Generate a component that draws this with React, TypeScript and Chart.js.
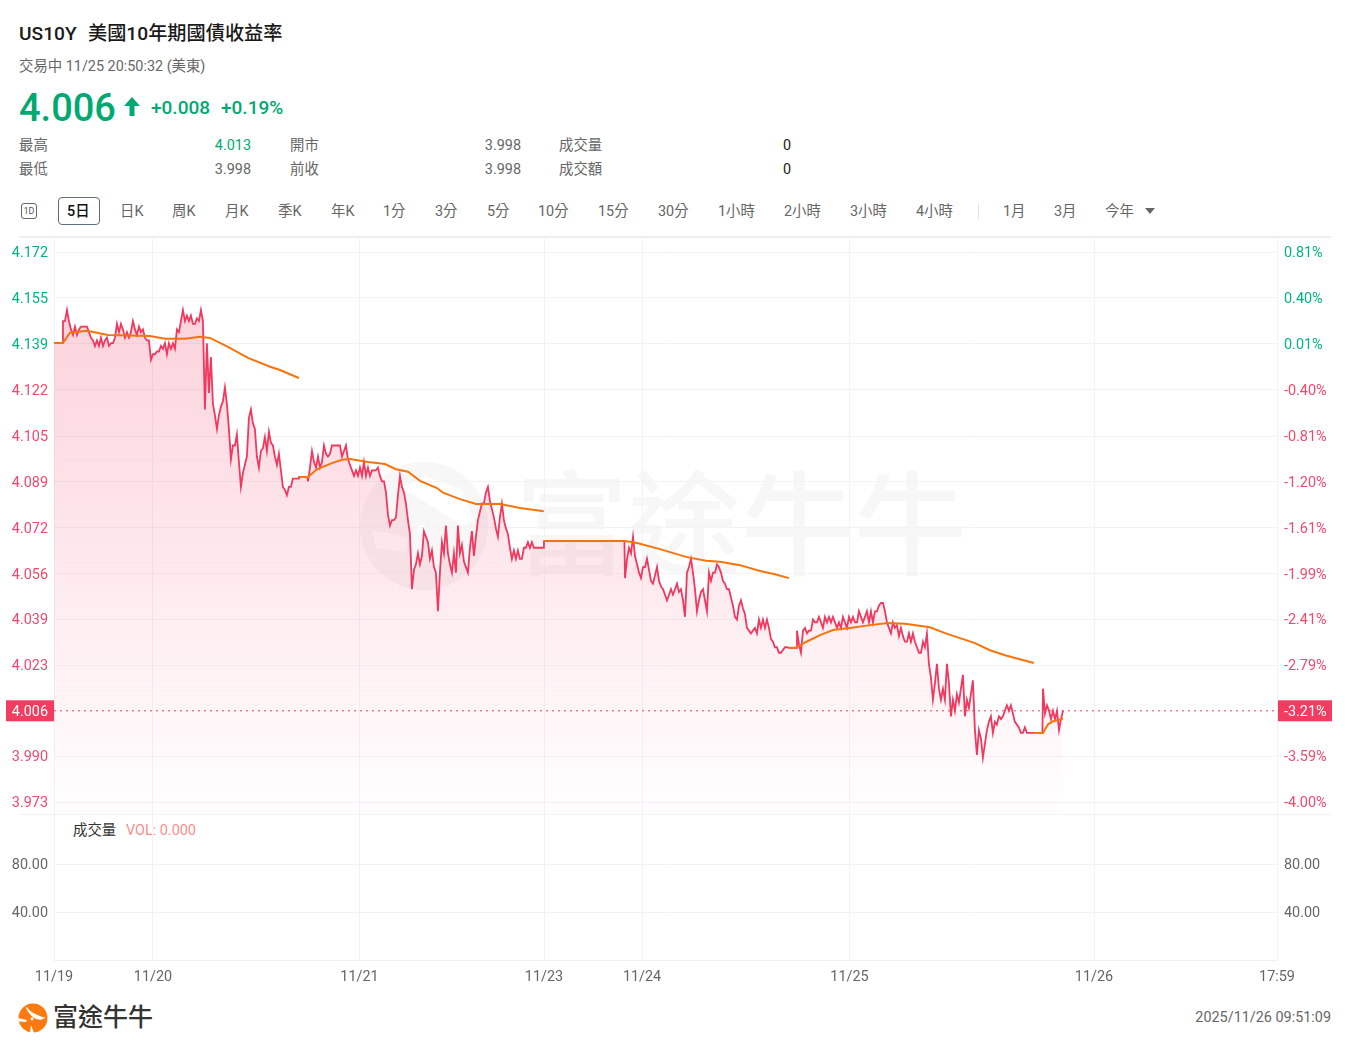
import React, { useEffect, useRef } from "react";
import { Chart, registerables } from "chart.js";

Chart.register(...registerables);

const FONT = 'Roboto, "Noto Sans CJK TC", sans-serif';
const RED = "#f23d61";
const GREEN = "#00a971";
const SMALL = 14.4;

// Tick tables
const priceTicks = [4.172, 4.1554, 4.1388, 4.1222, 4.1054, 4.0889, 4.0723, 4.0557, 4.0391, 4.0225, 3.9895, 3.973];
const priceLabels = ["4.172", "4.155", "4.139", "4.122", "4.105", "4.089", "4.072", "4.056", "4.039", "4.023", "3.990", "3.973"];
const percentLabels = ["0.81%", "0.40%", "0.01%", "-0.40%", "-0.81%", "-1.20%", "-1.61%", "-1.99%", "-2.41%", "-2.79%", "-3.59%", "-4.00%"];
const volumeTicks = [80, 40];
const volumeLabels = ["80.00", "40.00"];
const timeTicks = [0, 9.7, 29.95, 48.04, 57.65, 77.99, 101.96, 119.9];
const timeLabels = ["11/19", "11/20", "11/21", "11/23", "11/24", "11/25", "11/26", "17:59"];
const LAST_PRICE = 4.006;
const LAST_PERCENT = "-3.21%";
const X_MAX = 119.9;
const SAMPLE_HOURS = 0.196;

// Session opening (flat) stretch
const sessionOpenHours = [0, 24.02, 48.04, 72.06, 96.08];
const sessionOpenPrices = [4.1391, 4.0906, 4.0674, 4.0288, 3.998];
const activeStartHours = [0.88, 24.9, 55.98, 72.84, 96.96];

// Prices, one sample per SAMPLE_HOURS
const session1 = [
  4.147, 4.147, 4.151, 4.147, 4.144, 4.142, 4.145, 4.142, 4.144, 4.145, 4.145, 4.145, 4.145, 4.143, 4.141, 4.14, 4.138, 4.14, 4.138, 4.141,
  4.138, 4.14, 4.141, 4.138, 4.139, 4.139, 4.141, 4.146, 4.143, 4.146, 4.144, 4.141, 4.143, 4.141, 4.143, 4.147, 4.144, 4.142, 4.145, 4.143,
  4.144, 4.141, 4.14, 4.14, 4.133, 4.135, 4.135, 4.136, 4.136, 4.138, 4.137, 4.139, 4.135, 4.139, 4.137, 4.139, 4.137, 4.144, 4.143, 4.147,
  4.151, 4.147, 4.149, 4.147, 4.149, 4.146, 4.146, 4.148, 4.147, 4.151, 4.147, 4.115, 4.139, 4.121, 4.134, 4.117, 4.113, 4.108, 4.113, 4.116,
  4.118, 4.123, 4.117, 4.108, 4.097, 4.102, 4.102, 4.106, 4.096, 4.087, 4.092, 4.095, 4.098, 4.112, 4.115, 4.11, 4.108, 4.098, 4.094, 4.1,
  4.101, 4.105, 4.1, 4.107, 4.103, 4.102, 4.098, 4.095, 4.099, 4.093, 4.087, 4.086, 4.084, 4.087, 4.087, 4.09, 4.09, 4.09, 4.09,
];
const session2 = [
  4.089, 4.094, 4.1, 4.096, 4.094, 4.098, 4.094, 4.096, 4.102, 4.099, 4.098, 4.099, 4.102, 4.102, 4.102, 4.102, 4.102, 4.098, 4.1, 4.102,
  4.097, 4.095, 4.093, 4.091, 4.093, 4.091, 4.094, 4.091, 4.096, 4.091, 4.094, 4.091, 4.093, 4.093, 4.093, 4.094, 4.091, 4.089, 4.089, 4.085,
  4.077, 4.073, 4.075, 4.075, 4.076, 4.084, 4.091, 4.087, 4.085, 4.081, 4.075, 4.07, 4.05, 4.057, 4.059, 4.063, 4.059, 4.062, 4.071, 4.069,
  4.067, 4.061, 4.064, 4.058, 4.056, 4.042, 4.056, 4.067, 4.063, 4.073, 4.063, 4.059, 4.056, 4.063, 4.056, 4.073, 4.063, 4.066, 4.06, 4.058,
  4.056, 4.065, 4.071, 4.062, 4.069, 4.075, 4.078, 4.081, 4.081, 4.085, 4.087, 4.082, 4.079, 4.076, 4.072, 4.069, 4.076, 4.081, 4.075, 4.072,
  4.07, 4.065, 4.061, 4.064, 4.061, 4.064, 4.061, 4.061, 4.065, 4.065, 4.067, 4.065, 4.067, 4.065, 4.065, 4.065, 4.065, 4.065, 4.065,
];
const session3 = [
  4.054, 4.061, 4.065, 4.063, 4.069, 4.062, 4.059, 4.056, 4.054, 4.058, 4.058, 4.061, 4.057, 4.053, 4.052, 4.055, 4.058, 4.053, 4.051, 4.05,
  4.048, 4.046, 4.048, 4.05, 4.048, 4.05, 4.052, 4.049, 4.05, 4.046, 4.04, 4.056, 4.058, 4.061, 4.056, 4.05, 4.042, 4.046, 4.049, 4.05,
  4.046, 4.042, 4.056, 4.053, 4.056, 4.056, 4.059, 4.058, 4.056, 4.053, 4.052, 4.05, 4.05, 4.047, 4.044, 4.04, 4.039, 4.044, 4.046, 4.043,
  4.041, 4.036, 4.035, 4.034, 4.035, 4.036, 4.034, 4.039, 4.036, 4.039, 4.036, 4.039, 4.036, 4.032, 4.031, 4.029, 4.029, 4.027, 4.027, 4.028,
  4.029, 4.029,
];
const session4 = [
  4.035, 4.03, 4.027, 4.035, 4.036, 4.034, 4.035, 4.035, 4.039, 4.038, 4.038, 4.04, 4.038, 4.036, 4.04, 4.038, 4.04, 4.038, 4.04, 4.038,
  4.036, 4.038, 4.036, 4.04, 4.038, 4.036, 4.04, 4.038, 4.04, 4.038, 4.038, 4.042, 4.04, 4.038, 4.04, 4.042, 4.038, 4.042, 4.038, 4.042,
  4.042, 4.044, 4.045, 4.045, 4.042, 4.038, 4.036, 4.034, 4.038, 4.036, 4.037, 4.033, 4.036, 4.033, 4.031, 4.031, 4.034, 4.031, 4.034, 4.031,
  4.029, 4.027, 4.027, 4.031, 4.029, 4.034, 4.023, 4.018, 4.01, 4.016, 4.023, 4.014, 4.01, 4.014, 4.01, 4.023, 4.016, 4.004, 4.01, 4.006,
  4.012, 4.009, 4.014, 4.019, 4.004, 4.01, 4.007, 4.012, 4.017, 3.999, 3.99, 3.999, 3.996, 3.989, 3.994, 3.999, 4.002, 4.004, 3.998, 4.002,
  4.001, 4.004, 4.003, 4.004, 4.006, 4.008, 4.006, 4.008, 4.005, 4.002, 4.001, 4.0, 3.998, 3.998, 4.0, 3.998, 3.998, 3.998, 3.998,
];
const session5 = [4.014, 4.005, 4.008, 4.006, 4.003, 4.006, 4.003, 4.006, 3.999, 4.003, 4.006];
const sessions = [session1, session2, session3, session4, session5];

// Average line per session
const avgHours = [
  [0, 0.88, 1.57, 3.24, 5.29, 9.41, 10.88, 12.84, 14.31, 15.29, 17.06, 19.02, 21.18, 22.16, 24.0],
  [24.02, 24.9, 25.78, 27.25, 28.24, 29.02, 30.78, 32.45, 33.53, 34.71, 35.88, 37.55, 38.14, 39.8, 41.37, 43.73, 45.69, 48.02],
  [48.04, 55.98, 57.16, 59.41, 61.96, 63.92, 65.29, 67.25, 69.22, 70.69, 72.04],
  [72.06, 72.75, 73.73, 75.1, 76.37, 78.04, 80, 81.76, 83.43, 85.88, 87.35, 90.29, 91.76, 93.24, 96.06],
  [96.08, 96.96, 97.45, 97.94, 98.92],
];
const avgValues = [
  [4.1391, 4.1391, 4.1428, 4.1435, 4.142, 4.1416, 4.1406, 4.1406, 4.1413, 4.1409, 4.1377, 4.1337, 4.1305, 4.1293, 4.1264],
  [4.0906, 4.0906, 4.0934, 4.0956, 4.0968, 4.0971, 4.096, 4.0953, 4.0934, 4.0925, 4.0892, 4.0866, 4.0849, 4.0826, 4.0808, 4.0808, 4.0794, 4.0782],
  [4.0674, 4.0674, 4.0667, 4.0645, 4.0617, 4.0603, 4.0599, 4.0587, 4.0566, 4.0554, 4.054],
  [4.0288, 4.0288, 4.0309, 4.0334, 4.0352, 4.036, 4.037, 4.0378, 4.0375, 4.0362, 4.0341, 4.0305, 4.0279, 4.0261, 4.0233],
  [3.998, 3.998, 4.0011, 4.0022, 4.0031],
];

// Toolbar
const rangeNames = ["日K", "周K", "月K", "季K", "年K", "1分", "3分", "5分", "10分", "15分", "30分", "1小時", "2小時", "3小時", "4小時", "1月", "3月", "今年"];
const rangeLefts = [120, 172, 225, 278, 331, 383, 435, 487, 538, 598, 658, 718, 784, 850, 916, 1003, 1054, 1105];

type TProps = { x: number; cy: number; size?: number; color?: string; weight?: number; right?: boolean; spacing?: number; children: React.ReactNode };
function T({ x, cy, size = SMALL, color = "#666", weight = 400, right, spacing, children }: TProps) {
  const style: React.CSSProperties = {
    position: "absolute",
    top: cy + 0.8,
    transform: "translateY(-50%)",
    fontSize: size,
    fontWeight: weight,
    color,
    lineHeight: 1.2,
    whiteSpace: "pre",
    letterSpacing: spacing,
    fontFamily: FONT,
  };
  if (right) style.right = 1350 - x;
  else style.left = x;
  return <div style={style}>{children}</div>;
}

const pricePoints = () => {
  const pts: { x: number; y: number }[] = [];
  sessions.forEach((list, s) => {
    pts.push({ x: sessionOpenHours[s], y: sessionOpenPrices[s] });
    pts.push({ x: activeStartHours[s] - 0.06, y: sessionOpenPrices[s] });
    list.forEach((p, i) => pts.push({ x: activeStartHours[s] + i * SAMPLE_HOURS, y: p }));
  });
  return pts;
};
const avgPoints = () => {
  const pts: { x: number; y: number | null }[] = [];
  avgHours.forEach((hours, s) => {
    hours.forEach((h, i) => pts.push({ x: h, y: avgValues[s][i] }));
    pts.push({ x: hours[hours.length - 1] + 0.005, y: null });
  });
  return pts;
};

function setTicks(values: number[]) {
  return (scale: any) => {
    scale.ticks = values.map((value) => ({ value }));
  };
}
const fixWidth = (w: number) => (scale: any) => {
  scale.width = w;
};
const labelFrom = (values: number[], labels: string[]) => (v: any) => labels[values.indexOf(v)];
const priceColor = (ctx: any) => (ctx.tick && ctx.tick.value >= 4.13 ? "#00b285" : "#f4486b");

const overlay = {
  id: "overlay",
  beforeDraw(chart: any) {
    // Roboto sits high on a "middle" baseline: nudge the y-axis labels onto their grid rows
    ["yPrice", "yVolume", "yPercent", "yVolumeRight"].forEach((id) => {
      chart.scales[id].getLabelItems().forEach((item: any) => {
        if (!item.nudged) {
          item.options.translation[1] += 1.5;
          item.nudged = true;
        }
      });
    });
  },
  afterDraw(chart: any) {
    const { ctx, scales } = chart;
    const y = scales.yPrice.getPixelForValue(LAST_PRICE);
    ctx.save();
    ctx.strokeStyle = "#f1f1f4";
    ctx.lineWidth = 1;
    ctx.beginPath();
    ctx.moveTo(19, Math.round(scales.yPrice.bottom) + 0.5);
    ctx.lineTo(1331, Math.round(scales.yPrice.bottom) + 0.5);
    ctx.stroke();
    ctx.fillStyle = RED;
    ctx.fillRect(6, y - 10.5, 48, 21);
    ctx.fillRect(1278, y - 10.5, 54, 21);
    ctx.fillStyle = "#fff";
    ctx.font = `${SMALL}px ${FONT}`;
    ctx.textBaseline = "middle";
    ctx.textAlign = "right";
    ctx.fillText(LAST_PRICE.toFixed(3), 48, y + 1.5);
    ctx.textAlign = "left";
    ctx.fillText(LAST_PERCENT, 1284, y + 1.5);
    ctx.restore();
  },
};

export default function App() {
  const ref = useRef<HTMLCanvasElement>(null);
  useEffect(() => {
    document.body.style.margin = "0";
    const chart = new Chart(ref.current as HTMLCanvasElement, {
      type: "line",
      data: {
        datasets: [
          {
            label: "avg",
            data: avgPoints() as any,
            yAxisID: "yPrice",
            borderColor: "#f7730c",
            borderWidth: 2,
            pointRadius: 0,
            spanGaps: false,
            order: 1,
          },
          {
            label: "US10Y",
            data: pricePoints(),
            yAxisID: "yPrice",
            borderColor: "rgb(241,56,94)",
            borderWidth: 1.8,
            pointRadius: 0,
            fill: "start",
            backgroundColor: (c: any) => {
              const { chart: ch } = c;
              const s = ch.scales.yPrice;
              const top = s ? s.getPixelForValue(4.15) : NaN;
              const bottom = s ? s.getPixelForValue(3.975) : NaN;
              if (!Number.isFinite(top) || !Number.isFinite(bottom)) return "rgba(241,56,94,0.15)";
              const g = ch.ctx.createLinearGradient(0, top, 0, bottom);
              g.addColorStop(0, "rgba(241,56,94,0.22)");
              g.addColorStop(1, "rgba(241,56,94,0.01)");
              return g;
            },
            order: 2,
          },
          {
            label: "last",
            data: [
              { x: 0, y: LAST_PRICE },
              { x: X_MAX, y: LAST_PRICE },
            ],
            yAxisID: "yPrice",
            borderColor: RED,
            borderWidth: 1,
            borderDash: [2, 4],
            pointRadius: 0,
            order: 3,
          },
        ],
      },
      options: {
        animation: false,
        responsive: false,
        parsing: false as any,
        normalized: true,
        layout: { padding: { top: 238, bottom: 50, left: 0, right: 0 } },
        plugins: { legend: { display: false }, title: { display: false }, tooltip: { enabled: false } },
        scales: {
          x: {
            type: "linear",
            min: 0,
            max: X_MAX,
            afterBuildTicks: setTicks(timeTicks),
            afterFit: (s: any) => {
              s.height = 40;
            },
            grid: { color: "#f3f3f6", drawTicks: false },
            border: { color: "#f1f1f4" },
            ticks: {
              autoSkip: false,
              maxRotation: 0,
              padding: 8.5,
              color: "#666",
              font: { size: SMALL, family: FONT },
              callback: labelFrom(timeTicks, timeLabels),
            },
          },
          yPrice: {
            type: "linear",
            position: "left",
            stack: "panes",
            stackWeight: 576,
            weight: 2,
            min: 3.96866,
            max: 4.17707,
            afterBuildTicks: setTicks(priceTicks),
            afterFit: fixWidth(54),
            grid: { color: "#f3f3f6", drawTicks: false },
            border: { display: false },
            ticks: { autoSkip: false, padding: 6, color: priceColor, font: { size: SMALL, family: FONT }, callback: labelFrom(priceTicks, priceLabels) },
          },
          yVolume: {
            type: "linear",
            position: "left",
            stack: "panes",
            stackWeight: 146,
            weight: 1,
            min: 0,
            max: 121.67,
            afterBuildTicks: setTicks(volumeTicks),
            afterFit: fixWidth(54),
            grid: { color: "#f3f3f6", drawTicks: false },
            border: { display: false },
            ticks: { autoSkip: false, padding: 6, color: "#666", font: { size: SMALL, family: FONT }, callback: labelFrom(volumeTicks, volumeLabels) },
          },
          yPercent: {
            type: "linear",
            position: "right",
            stack: "panes",
            stackWeight: 576,
            weight: 1,
            min: 3.96866,
            max: 4.17707,
            afterBuildTicks: setTicks(priceTicks),
            afterFit: fixWidth(73),
            grid: { display: false, drawTicks: false },
            border: { display: false },
            ticks: { autoSkip: false, padding: 7, color: priceColor, font: { size: SMALL, family: FONT }, callback: labelFrom(priceTicks, percentLabels) },
          },
          yVolumeRight: {
            type: "linear",
            position: "right",
            stack: "panes",
            stackWeight: 146,
            weight: 2,
            min: 0,
            max: 121.67,
            afterBuildTicks: setTicks(volumeTicks),
            afterFit: fixWidth(73),
            grid: { display: false, drawTicks: false },
            border: { display: false },
            ticks: { autoSkip: false, padding: 7, color: "#666", font: { size: SMALL, family: FONT }, callback: labelFrom(volumeTicks, volumeLabels) },
          },
        },
      },
      plugins: [overlay],
    } as any);
    return () => chart.destroy();
  }, []);

  return (
    <div style={{ position: "absolute", left: 0, top: 0, width: 1350, height: 1050, overflow: "hidden", background: "#fff", fontFamily: FONT }}>
      {/* watermark */}
      <svg style={{ position: "absolute", left: 359, top: 461 }} width="130" height="130" viewBox="359 461 130 130">
        <circle cx="424" cy="526" r="64" fill="rgba(60,60,80,0.04)" />
        <path d="M402 488 L425 476 L462 490 L474 522 L462 525 Z M372 530 L410 538 L405 552 L376 548 Z" fill="#fff" />
        <circle cx="422" cy="530" r="5" fill="#fff" />
      </svg>
      <T x={515} cy={527} size={113} weight={500} color="rgba(60,60,80,0.04)">富途牛牛</T>

      <T x={19} cy={33} size={19.2} weight={500} color="#1a1a1a">US10Y</T>
      <T x={88} cy={33} size={19.2} weight={500} color="#1a1a1a">美國10年期國債收益率</T>
      <T x={19} cy={66}>交易中 11/25 20:50:32 (美東)</T>
      <T x={19} cy={108} size={38} weight={500} color={GREEN}>4.006</T>
      <svg style={{ position: "absolute", left: 123, top: 97 }} width="18" height="20" viewBox="0 0 18 20">
        <path d="M9 0 L17 9 H11.5 V19 H6.5 V9 H1 Z" fill={GREEN} />
      </svg>
      <T x={151} cy={107} size={19} weight={500} color={GREEN}>+0.008</T>
      <T x={221} cy={107} size={19} weight={500} color={GREEN}>+0.19%</T>

      <T x={19} cy={145}>最高</T>
      <T x={251} cy={145} right color={GREEN}>4.013</T>
      <T x={290} cy={145}>開市</T>
      <T x={521} cy={145} right>3.998</T>
      <T x={559} cy={145}>成交量</T>
      <T x={791} cy={145} right color="#222">0</T>
      <T x={19} cy={169}>最低</T>
      <T x={251} cy={169} right>3.998</T>
      <T x={290} cy={169}>前收</T>
      <T x={521} cy={169} right>3.998</T>
      <T x={559} cy={169}>成交額</T>
      <T x={791} cy={169} right color="#222">0</T>

      <div style={{ position: "absolute", left: 21, top: 203, width: 14, height: 14, border: "1px solid #666", borderRadius: 3, fontSize: 9, lineHeight: "14px", textAlign: "center", color: "#555", fontFamily: FONT }}>1D</div>
      <div style={{ position: "absolute", left: 58, top: 197, width: 40, height: 26, border: "1px solid #5d6b7a", borderRadius: 4 }} />
      <T x={67} cy={211} weight={500} color="#111">5日</T>
      {rangeNames.map((n, i) => (
        <T key={n} x={rangeLefts[i]} cy={211}>{n}</T>
      ))}
      <div style={{ position: "absolute", left: 978, top: 203, width: 1, height: 16, background: "#e4e4e4" }} />
      <svg style={{ position: "absolute", left: 1144, top: 207 }} width="12" height="8" viewBox="0 0 12 8">
        <path d="M1 1 H11 L6 7 Z" fill="#666" />
      </svg>
      <div style={{ position: "absolute", left: 19, top: 236, width: 1312, height: 2, background: "#eeeeee" }} />

      <T x={73} cy={830} color="#333">成交量</T>
      <T x={126} cy={830} color="#f98d8d">VOL: 0.000</T>

      <svg style={{ position: "absolute", left: 18, top: 1003 }} width="30" height="30" viewBox="0 0 30 30">
        <circle cx="15" cy="15" r="14.5" fill="#ff7a0e" />
        <path d="M9 4 C12 9 17 11 20 12 C22 13 25 15 28 14 C26 16 23 17 21 16.5 C16 16 11 12 8 5 Z M0 15 L9 17 L8 19 L1 18.5 Z M13 22 L16 30 L12 30 Z" fill="#fff" />
        <circle cx="14" cy="16" r="1.4" fill="#fff" />
      </svg>
      <T x={53} cy={1017} size={25} weight={500} color="#333">富途牛牛</T>
      <T x={1331} cy={1017} right>2025/11/26 09:51:09</T>

      <canvas ref={ref} width={1350} height={1050} style={{ position: "absolute", left: 0, top: 0, display: "block" }} />
    </div>
  );
}
